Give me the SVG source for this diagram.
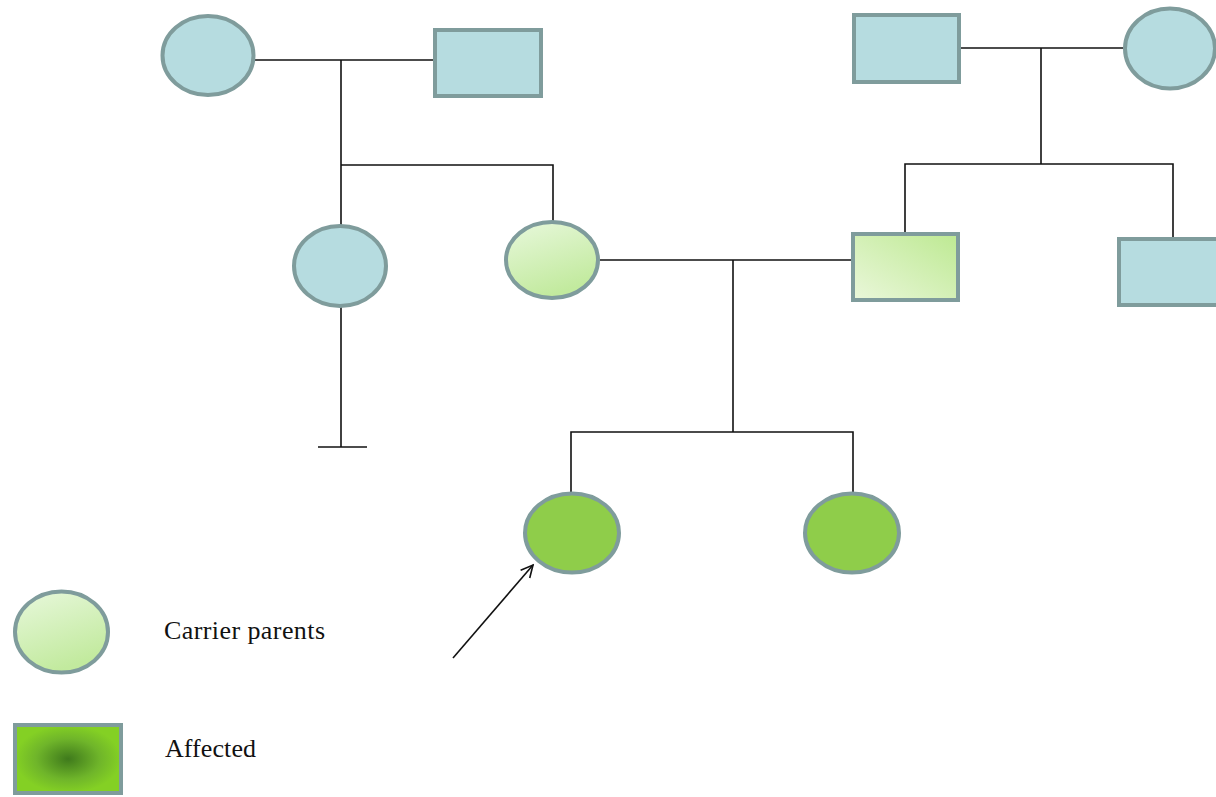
<svg xmlns="http://www.w3.org/2000/svg" width="1216" height="797" viewBox="0 0 1216 797">
<style>
.blue{fill:#b6dce0;stroke:#7f9c9c;stroke-width:4}
.carrier{stroke:#7f9c9c;stroke-width:4}
.aff{fill:#8fcd4a;stroke:#7f9c9c;stroke-width:4}
.ln{stroke:#111;stroke-width:1.6;fill:none}
.lbl{font-family:"Liberation Serif","Times New Roman",serif;font-size:26px;fill:#111}
</style>
<defs>
<linearGradient id="gCarrierC" x1="0" y1="0" x2="0.4" y2="1">
<stop offset="0" stop-color="#e8f8dc"/>
<stop offset="1" stop-color="#c2ea9e"/>
</linearGradient>
<linearGradient id="gCarrierR" x1="0" y1="1" x2="1" y2="0">
<stop offset="0" stop-color="#eaf7da"/>
<stop offset="1" stop-color="#bde992"/>
</linearGradient>
<radialGradient id="gAff" cx="0.5" cy="0.5" r="0.5">
<stop offset="0" stop-color="#3f7a1c"/>
<stop offset="0.6" stop-color="#6fb52a"/>
<stop offset="1" stop-color="#84d024"/>
</radialGradient>
<marker id="open" markerWidth="16" markerHeight="16" refX="14" refY="8" orient="auto" markerUnits="userSpaceOnUse">
<path d="M2,2 L14,8 L2,14" fill="none" stroke="#111" stroke-width="1.6"/>
</marker>
</defs>
<g id="connectors">
<line class="ln" x1="255" y1="60" x2="433" y2="60"/>
<line class="ln" x1="341" y1="60" x2="341" y2="226"/>
<polyline class="ln" points="341,165 553,165 553,222"/>
<line class="ln" x1="341" y1="307" x2="341" y2="447"/>
<line class="ln" x1="318" y1="447" x2="367" y2="447"/>
<line class="ln" x1="960" y1="48" x2="1123" y2="48"/>
<line class="ln" x1="1041" y1="48" x2="1041" y2="164"/>
<polyline class="ln" points="905,233 905,164 1173,164 1173,237"/>
<line class="ln" x1="600" y1="260" x2="851" y2="260"/>
<line class="ln" x1="733" y1="260" x2="733" y2="432"/>
<polyline class="ln" points="571,492 571,432 853,432 853,492"/>
<line class="ln" x1="453" y1="658" x2="533" y2="565" marker-end="url(#open)"/>
</g>
<g id="gp1-female"><ellipse class="blue" cx="208" cy="55.5" rx="45.5" ry="39.5"/></g>
<g id="gp1-male"><rect class="blue" x="435" y="30" width="106" height="66"/></g>
<g id="gp2-male"><rect class="blue" x="854" y="15" width="105" height="67"/></g>
<g id="gp2-female"><ellipse class="blue" cx="1170" cy="48.5" rx="45" ry="40"/></g>
<g id="aunt"><ellipse class="blue" cx="340" cy="266" rx="46" ry="40"/></g>
<g id="mother"><ellipse class="carrier" fill="url(#gCarrierC)" cx="552" cy="260" rx="46" ry="38"/></g>
<g id="father"><rect class="carrier" fill="url(#gCarrierR)" x="853" y="234" width="105" height="66"/></g>
<g id="uncle"><rect class="blue" x="1119" y="239" width="100" height="66"/></g>
<g id="child1"><ellipse class="aff" cx="572" cy="533" rx="47" ry="39.5"/></g>
<g id="child2"><ellipse class="aff" cx="852" cy="533" rx="47" ry="39.5"/></g>
<g id="legend-carrier">
<ellipse class="carrier" fill="url(#gCarrierC)" cx="61.5" cy="632" rx="46.5" ry="40.5"/>
<text class="lbl" x="164" y="639" textLength="161" lengthAdjust="spacing">Carrier parents</text>
</g>
<g id="legend-affected">
<rect x="15" y="725" width="106" height="68" fill="url(#gAff)" stroke="#7f9c9c" stroke-width="4"/>
<text class="lbl" x="165" y="757" textLength="91" lengthAdjust="spacing">Affected</text>
</g>
</svg>
